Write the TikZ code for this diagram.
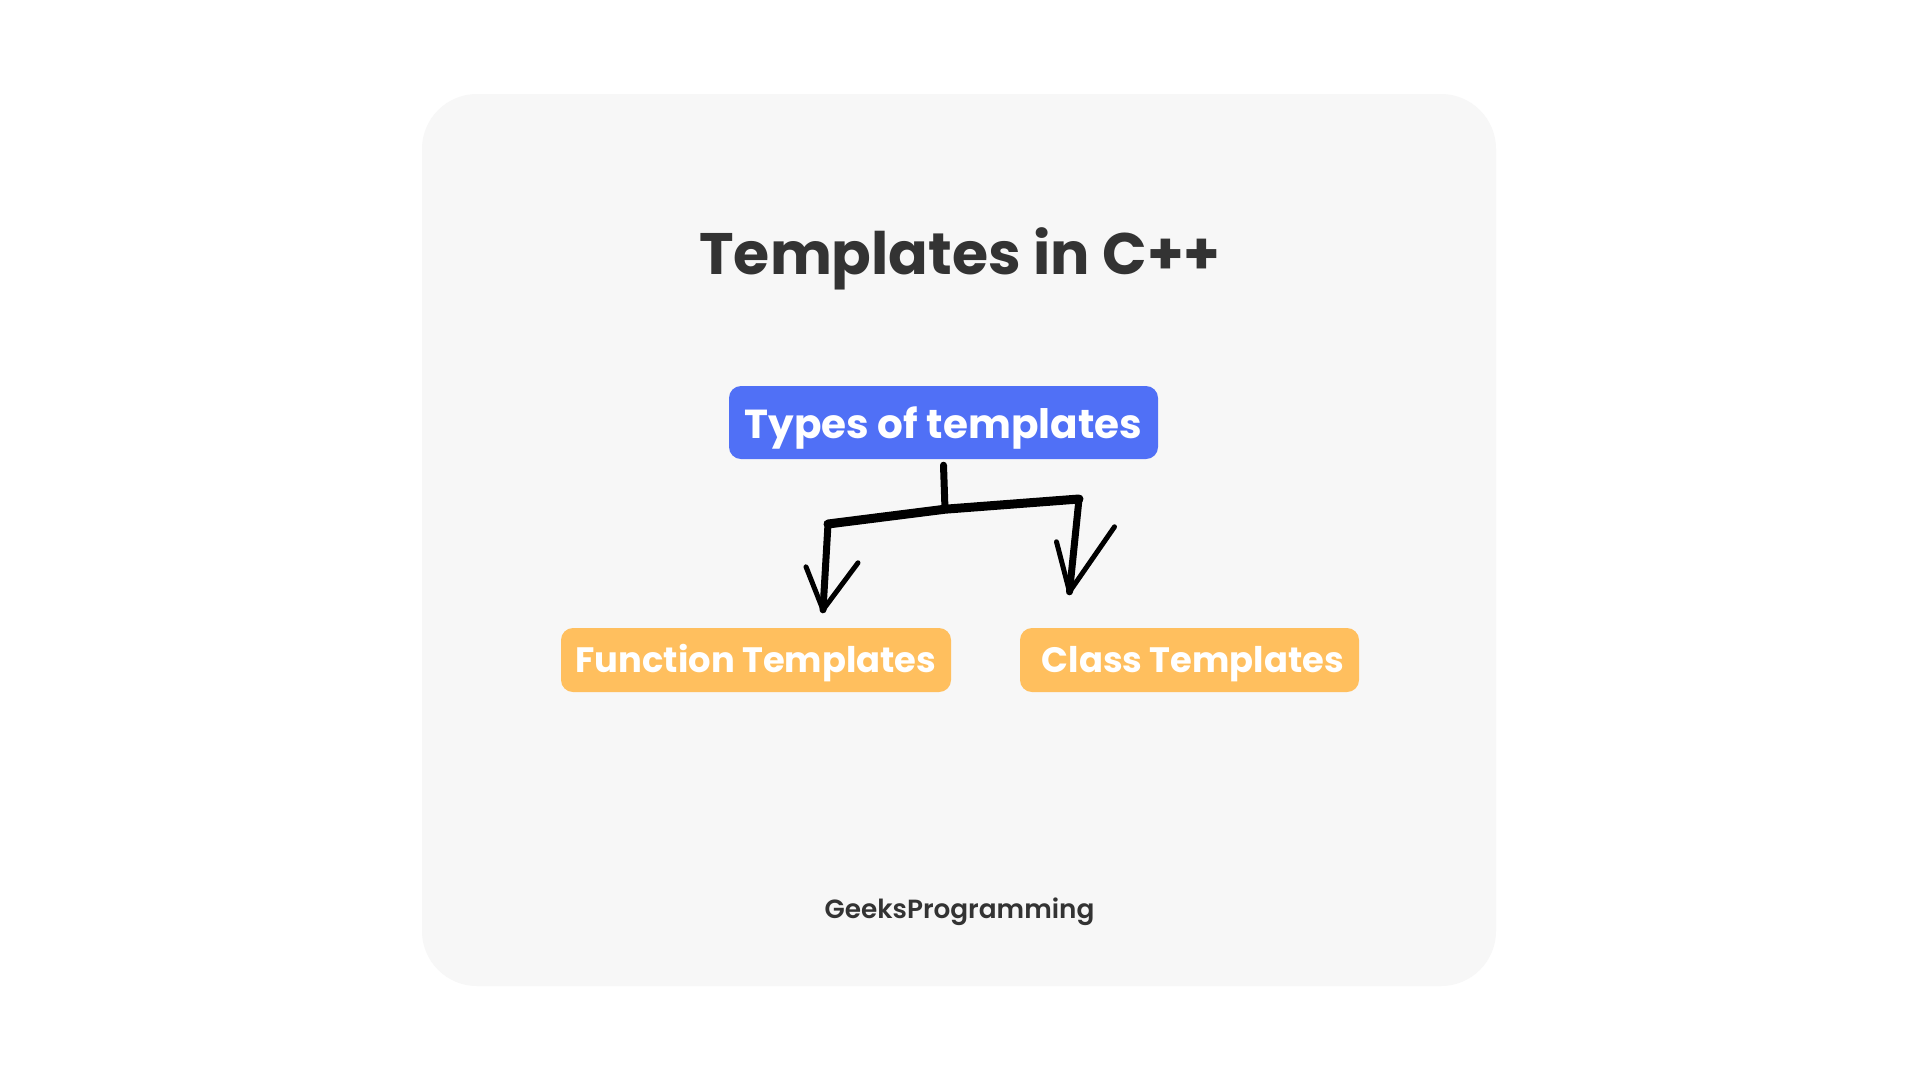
\documentclass[tikz,border=0pt]{standalone}
\usepackage{fontspec}
\setmainfont{Poppins}
\newfontfamily\brandfont{Poppins SemiBold}
\usetikzlibrary{positioning, calc}

\definecolor{cardgray}{HTML}{F7F7F7}
\definecolor{typeblue}{HTML}{5070F6}
\definecolor{kindorange}{HTML}{FFBF5E}
\definecolor{inkgray}{HTML}{333333}

\begin{document}
\begin{tikzpicture}[x=1pt, y=-1pt,
    box/.style={rounded corners=12pt, inner sep=0pt, text=white, text depth=0pt, font=\bfseries\fontsize{35.3}{38}\selectfont},
    sketch/.style={line width=7pt, line cap=round, line join=round, black},
    wing/.style={line width=5pt, line cap=round, line join=round, black}]
  \useasboundingbox[fill=white] (0,0) rectangle (1920,1080);
  % card
  \fill[cardgray, rounded corners=55pt] (422,94) rectangle (1496,986);
  \node[anchor=base, text=inkgray, font=\bfseries\fontsize{58.5}{62}\selectfont] (title) at (960,274) {Templates in C++};
  % types
  \node[box, fill=typeblue, minimum width=429pt, minimum height=73pt, text height=31pt, font=\bfseries\fontsize{40.5}{44}\selectfont] (types) at (943.5,422.5) {Types of templates};
  \node[box, fill=kindorange, minimum width=390pt, minimum height=64pt, text height=25pt] (func) at (756,660) {Function Templates};
  \node[box, fill=kindorange, minimum width=339pt, minimum height=64pt, text height=25pt] (cls) at (1189.5,660) {\hspace*{7pt}Class Templates};
  \node[anchor=base, text=inkgray, font=\brandfont\fontsize{26.3}{30}\selectfont] (brand) at (959.5,918) {GeeksProgramming};
  % hand drawn arrows
  \coordinate (fork) at ($(types.south)+(1.5,50)$);
  \coordinate (forkL) at (828,524);
  \coordinate (forkR) at (1079,499);
  \coordinate (tipL) at ($(func.north)+(67,-18)$);
  \coordinate (tipR) at ($(cls.north)+(-120,-36)$);
  \draw[sketch] ($(types.south)+(0,6)$) -- (fork);
  \draw[sketch, line width=9pt] (forkL) -- (fork) -- (forkR);
  \draw[sketch] (forkL) -- (tipL);
  \draw[sketch] (forkR) -- (tipR);
  \draw[wing] ($(tipL)+(-17,-43)$) -- (tipL) -- ($(tipL)+(35,-47)$);
  \draw[wing] ($(tipR)+(-13,-50)$) -- (tipR) -- ($(tipR)+(45,-65)$);
\end{tikzpicture}
\end{document}
